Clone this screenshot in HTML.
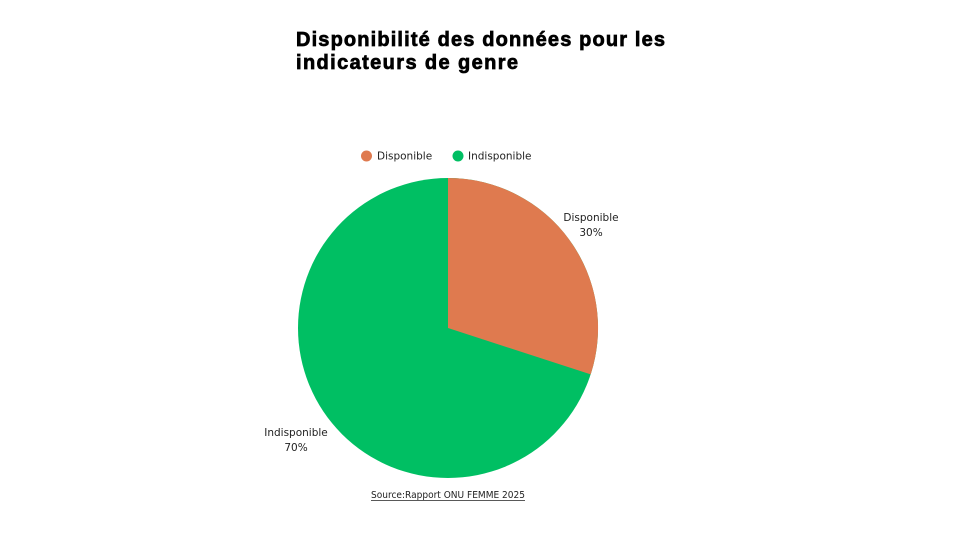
<!DOCTYPE html>
<html><head><meta charset="utf-8"><style>
html,body{margin:0;padding:0;background:#fff;}
body{width:960px;height:540px;overflow:hidden;position:relative;}
</style></head><body>
<svg width="960" height="540" viewBox="0 0 960 540" xmlns="http://www.w3.org/2000/svg" style="position:absolute;left:0;top:0">
<text x="296" y="46" textLength="369" lengthAdjust="spacing" font-family="Liberation Sans, sans-serif" font-weight="bold" font-size="20" fill="#000" stroke="#000" stroke-width="0.7">Disponibilité des données pour les</text>
<text x="296" y="69" textLength="222" lengthAdjust="spacing" font-family="Liberation Sans, sans-serif" font-weight="bold" font-size="20" fill="#000" stroke="#000" stroke-width="0.7">indicateurs de genre</text>
<circle cx="366.5" cy="156" r="5.5" fill="#df7a4f"/>
<text x="377" y="159.5" font-family="DejaVu Sans, sans-serif" font-size="10.5" fill="#222">Disponible</text>
<circle cx="458" cy="156" r="5.5" fill="#00bf63"/>
<text x="468" y="159.5" font-family="DejaVu Sans, sans-serif" font-size="10.5" fill="#222">Indisponible</text>
<circle cx="448" cy="328" r="150" fill="#00bf63"/>
<path d="M448,328 L448,178 A150,150 0 0 1 590.7,374.4 Z" fill="#df7a4f"/>
<text x="591" y="221" text-anchor="middle" font-family="DejaVu Sans, sans-serif" font-size="10.5" fill="#222">Disponible</text>
<text x="591" y="236" text-anchor="middle" font-family="DejaVu Sans, sans-serif" font-size="10.5" fill="#222">30%</text>
<text x="296" y="436" text-anchor="middle" font-family="DejaVu Sans, sans-serif" font-size="10.5" fill="#222">Indisponible</text>
<text x="296" y="451" text-anchor="middle" font-family="DejaVu Sans, sans-serif" font-size="10.5" fill="#222">70%</text>
<text x="371" y="498" textLength="154" lengthAdjust="spacingAndGlyphs" font-family="DejaVu Sans, sans-serif" font-size="9.5" fill="#222">Source:Rapport ONU FEMME 2025</text>
<line x1="371" y1="500.5" x2="525" y2="500.5" stroke="#222" stroke-width="0.8"/>
</svg>
</body></html>
